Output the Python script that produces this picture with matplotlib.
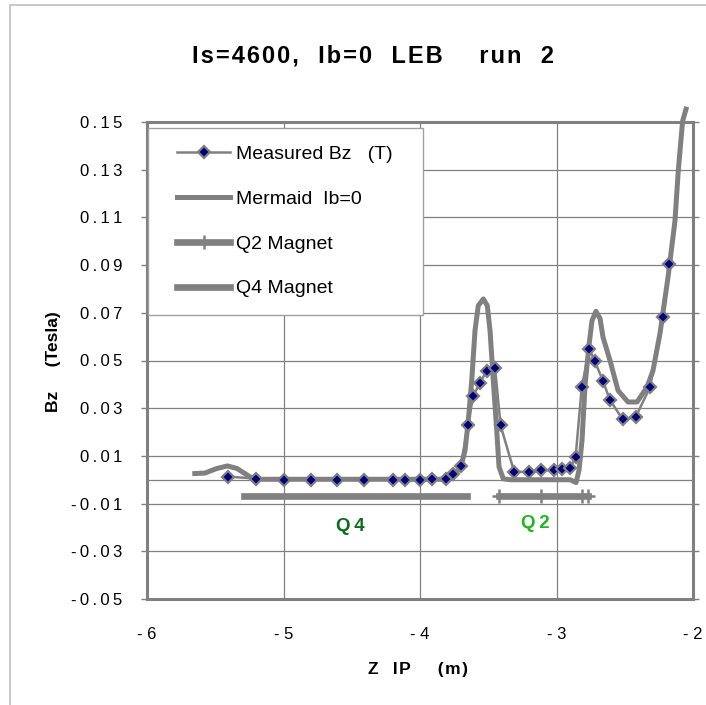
import matplotlib
matplotlib.use("Agg")
import matplotlib.pyplot as plt
from matplotlib.patches import Rectangle

plt.rcParams["font.family"] = ["Liberation Sans", "DejaVu Sans"]

# measured Bz (T) against Z from IP (m)
meas_z = [-5.41, -5.20, -5.00, -4.80, -4.61, -4.41, -4.20, -4.11, -4.00, -3.91, -3.81,
          -3.76, -3.70, -3.65, -3.61, -3.56, -3.51, -3.45, -3.41, -3.31, -3.20, -3.11,
          -3.02, -2.96, -2.90, -2.86, -2.815, -2.76, -2.72, -2.66, -2.61, -2.515, -2.42,
          -2.315, -2.22, -2.175]
meas_bz = [0.0013, 0.0005, 0.0, 0.0, 0.0, 0.0, 0.0, 0.0, 0.0, 0.0005, 0.0005,
           0.0026, 0.0059, 0.0228, 0.0352, 0.0407, 0.0458, 0.0469, 0.0228, 0.0033, 0.0033, 0.0040,
           0.0040, 0.0043, 0.0049, 0.0095, 0.0388, 0.0549, 0.0497, 0.0416, 0.0336, 0.0253, 0.0263,
           0.0388, 0.0681, 0.0905]

# Mermaid calculation, Ib=0
merm_z = [-5.65, -5.575, -5.49, -5.41, -5.34, -5.245, -5.19, -4.5, -3.82, -3.745, -3.70, -3.67,
          -3.646, -3.621, -3.597, -3.573, -3.536, -3.507, -3.487, -3.463, -3.438, -3.421, -3.39,
          -3.34, -2.90, -2.857, -2.835, -2.813, -2.791, -2.762, -2.74, -2.711, -2.681, -2.659,
          -2.608, -2.549, -2.476, -2.41, -2.337, -2.293, -2.242, -2.183, -2.132, -2.108, -2.076, -2.051]
merm_bz = [0.0026, 0.0028, 0.0047, 0.0058, 0.0047, 0.0012, 0.0002, 0.0002, 0.0002, 0.0023, 0.0056, 0.0123,
           0.0249, 0.0416, 0.0626, 0.0730, 0.0758, 0.0730, 0.0626, 0.0416, 0.0207, 0.0054, 0.0004,
           0.0, 0.0, -0.0012, 0.004, 0.0165, 0.0395, 0.0563, 0.0667, 0.0706, 0.0676, 0.0597,
           0.0500, 0.0374, 0.0326, 0.0326, 0.0388, 0.0458, 0.0613, 0.0849, 0.1086, 0.1295, 0.1504, 0.1554]

# magnet extents
q2_z = [-3.421, -3.114, -2.813, -2.769]
q2_bz = [-0.007, -0.007, -0.007, -0.007]
q4_z = [-5.29, -3.656]
q4_bz = [-0.007, -0.007]

x_ticks = [-6, -5, -4, -3, -2]
y_ticks = [-0.05, -0.03, -0.01, 0.01, 0.03, 0.05, 0.07, 0.09, 0.11, 0.13, 0.15]

GRAY = "#808080"


def spaced(s, gap="\u2009"):
    # Excel-style loose letter spacing
    return gap.join(s)


fig = plt.figure(figsize=(7.06, 7.05), dpi=100)
fig.patches.append(Rectangle((10 / 706, -0.05), 1.2, 1.05 - 5 / 705, transform=fig.transFigure,
                             fill=False, edgecolor="#c0c0c0", linewidth=1.2))
ax = fig.add_axes([147 / 706, 1 - 599 / 705, 546 / 706, 477 / 705])

ax.plot(meas_z, meas_bz, color=GRAY, lw=1.8, marker="D", ms=6.5, mfc="#000080",
        mec=GRAY, mew=1.6, label="Measured Bz   (T)", zorder=5)
ax.plot(merm_z, merm_bz, color=GRAY, lw=3.6, label="Mermaid  Ib=0", zorder=4, clip_on=False)
ax.plot(q2_z, q2_bz, color=GRAY, lw=4.8, marker="+", ms=10, mew=1.8, label="Q2 Magnet", zorder=3)
ax.plot(q4_z, q4_bz, color=GRAY, lw=4.8, label="Q4 Magnet", zorder=3)

ax.text(-4.513, -0.0195, "Q\u20094", color="#0a6e1e", fontsize=13.5, fontweight="bold",
        ha="center", va="center")
ax.text(-3.157, -0.0182, "Q\u20092", color="#22b422", fontsize=13.5, fontweight="bold",
        ha="center", va="center")

ax.set_xlim(-6, -2)
ax.set_ylim(-0.05, 0.15)
ax.set_xticks(x_ticks)
ax.set_xticklabels(["- %d" % abs(v) for v in x_ticks])
ax.set_yticks(y_ticks)
ax.set_yticklabels([spaced("%.2f" % v) for v in y_ticks])
ax.tick_params(axis="both", length=0, labelsize=12)
ax.tick_params(axis="y", pad=14, right=True, direction="out", length=4, width=1, color=GRAY)
ax.tick_params(axis="x", pad=20)
ax.grid(True, color=GRAY, lw=0.9)
ax.axhline(0, color=GRAY, lw=0.9, zorder=1)
ax.set_axisbelow(True)
for sp in ax.spines.values():
    sp.set_color(GRAY)
    sp.set_linewidth(2.2)

ax.set_xlabel(spaced("Z  IP    (m)", "\u200a"), fontsize=12.5, fontweight="bold")
ax.set_ylabel("Bz     (Tesla)", fontsize=12.5, fontweight="bold")
ax.xaxis.set_label_coords(0.496, -0.147)
ax.xaxis.label.set_va("center")
ax.yaxis.set_label_coords(-0.172, 0.497)
ax.yaxis.label.set_va("center")

fig.text(373 / 706, 1 - 62 / 705, spaced("Is=4600,  Ib=0  LEB    run  2", "\u200a"),
         fontsize=17, fontweight="bold", ha="center", va="baseline")

# legend box drawn separately so its padding can follow the original
ax.add_patch(Rectangle((0.002, 0.595), 0.504, 0.392, transform=ax.transAxes,
                       facecolor="white", edgecolor="#a0a0a0", linewidth=1.0, zorder=6))
leg = ax.legend(loc="upper left", bbox_to_anchor=(0.055, 0.951), numpoints=1, fontsize=14,
                handlelength=2.73, handletextpad=0.31, labelspacing=1.40, borderpad=0,
                borderaxespad=0, frameon=False)
leg.set_zorder(7)

fig.savefig("out.png", dpi=100)
